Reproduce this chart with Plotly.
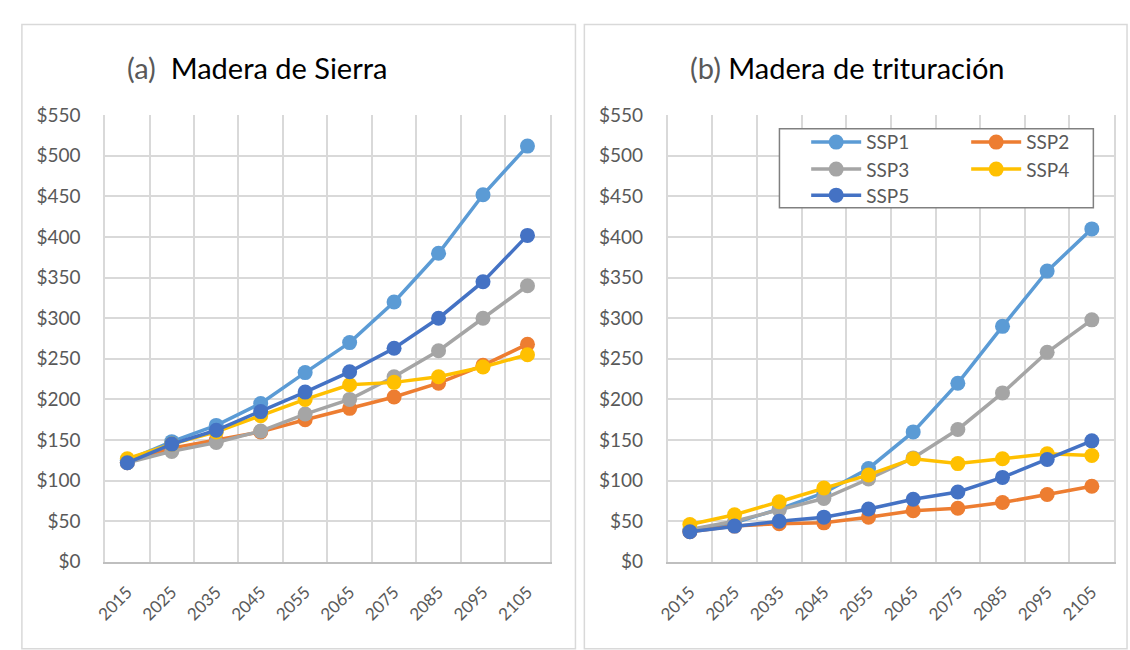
import plotly.graph_objs as go
from plotly.subplots import make_subplots

# Data
years = [2015, 2025, 2035, 2045, 2055, 2065, 2075, 2085, 2095, 2105]
series_names = ['SSP1', 'SSP2', 'SSP3', 'SSP4', 'SSP5']
colors = ['#5B9BD5', '#ED7D31', '#A5A5A5', '#FFC000', '#4472C4']

# (a) Madera de Sierra
sierra_ssp1 = [125, 148, 168, 195, 233, 270, 320, 380, 452, 512]
sierra_ssp2 = [122, 140, 150, 160, 175, 189, 203, 220, 242, 268]
sierra_ssp3 = [122, 136, 147, 161, 182, 200, 228, 260, 300, 340]
sierra_ssp4 = [127, 145, 160, 180, 200, 218, 221, 228, 240, 255]
sierra_ssp5 = [122, 145, 162, 185, 209, 234, 263, 300, 345, 402]

# (b) Madera de trituracion
trit_ssp1 = [38, 48, 65, 85, 115, 160, 220, 290, 358, 410]
trit_ssp2 = [37, 44, 47, 48, 55, 63, 66, 73, 83, 93]
trit_ssp3 = [40, 50, 64, 78, 102, 128, 163, 208, 258, 298]
trit_ssp4 = [46, 58, 74, 91, 107, 127, 121, 127, 133, 131]
trit_ssp5 = [37, 44, 50, 55, 65, 77, 86, 104, 126, 149]

sierra = [sierra_ssp1, sierra_ssp2, sierra_ssp3, sierra_ssp4, sierra_ssp5]
trit = [trit_ssp1, trit_ssp2, trit_ssp3, trit_ssp4, trit_ssp5]

W, H = 1130, 650
def px_x(x): return x / W
def px_y(y): return 1 - y / H

fig = make_subplots(rows=1, cols=2)

# legend laid out as rows: SSP1 SSP2 / SSP3 SSP4 / SSP5
legend_of = {'SSP1': 'legend', 'SSP2': 'legend',
             'SSP3': 'legend2', 'SSP4': 'legend2',
             'SSP5': 'legend3'}

for col, data in [(1, sierra), (2, trit)]:
    for name, vals, c in zip(series_names, data, colors):
        fig.add_trace(
            go.Scatter(
                x=years, y=vals, name=name,
                mode='lines+markers',
                line=dict(color=c, width=3.5),
                marker=dict(color=c, size=15),
                legendgroup=name,
                showlegend=(col == 2),
                legend=legend_of[name],
            ),
            row=1, col=col)

FONT = 'Lato, Open Sans, sans-serif'
grid_c = '#D9D9D9'

for i, dom in [(1, [px_x(95), px_x(544)]), (2, [px_x(663), px_x(1114)])]:
    fig.update_xaxes(
        domain=dom, range=[2010, 2110],
        tickmode='array', tickvals=years, ticktext=[str(y) for y in years],
        tickangle=-45, tickfont=dict(family=FONT, size=17, color='#595959'),
        ticklabelstandoff=12,
        showgrid=False, zeroline=False, ticks='',
        showline=True, linecolor='#BFBFBF', linewidth=1.5,
        minor=dict(tickmode='array', tickvals=list(range(2010, 2111, 10)),
                   showgrid=True, gridcolor=grid_c, gridwidth=1.5, ticks=''),
        row=1, col=i)
    fig.update_yaxes(
        domain=[px_y(570), px_y(107)], range=[0, 550],
        tickmode='linear', tick0=0, dtick=50, tickprefix='$',
        tickfont=dict(family=FONT, size=19, color='#595959'),
        ticks='', ticklabelstandoff=19,
        showgrid=True, gridcolor=grid_c, gridwidth=1.5, zeroline=False,
        showline=True, linecolor=grid_c, linewidth=1.5, mirror=True,
        row=1, col=i)

# panel frames
for x0, x1 in [(11, 570), (579, 1127)]:
    fig.add_shape(type='rect', xref='paper', yref='paper',
                  x0=px_x(x0), x1=px_x(x1), y0=px_y(13), y1=px_y(660),
                  line=dict(color='#D9D9D9', width=1.5), layer='below')

# legend box
fig.add_shape(type='rect', xref='paper', yref='paper',
              x0=px_x(776), x1=px_x(1093), y0=px_y(203), y1=px_y(121),
              line=dict(color='#808080', width=1.5), fillcolor='white', layer='above')

# titles
title_font = dict(family=FONT, size=29, color='#000000')
fig.add_annotation(x=px_x(115), y=px_y(58), xref='paper', yref='paper',
                   xanchor='left', yanchor='middle', showarrow=False, font=title_font,
                   text="<span style='color:#595959'>(a)</span>  Madera de Sierra")
fig.add_annotation(x=px_x(684), y=px_y(58), xref='paper', yref='paper',
                   xanchor='left', yanchor='middle', showarrow=False, font=title_font,
                   text="<span style='color:#595959'>(b)</span> Madera de trituración")

leg_common = dict(orientation='h', xanchor='left', yanchor='middle',
                  bgcolor='rgba(0,0,0,0)', borderwidth=0, itemwidth=50,
                  entrywidth=95,
                  font=dict(family=FONT, size=19, color='#595959'),
                  itemclick=False, itemdoubleclick=False)

fig.update_layout(
    width=W, height=H,
    margin=dict(l=0, r=0, t=0, b=0),
    paper_bgcolor='white', plot_bgcolor='white',
    legend=dict(x=px_x(803), y=px_y(135), **leg_common),
    legend2=dict(x=px_x(803), y=px_y(163), **leg_common),
    legend3=dict(x=px_x(803), y=px_y(190), **leg_common),
)

fig.write_html('out.html', config={'displayModeBar': False},
               post_script="document.body.style.margin='0';")
